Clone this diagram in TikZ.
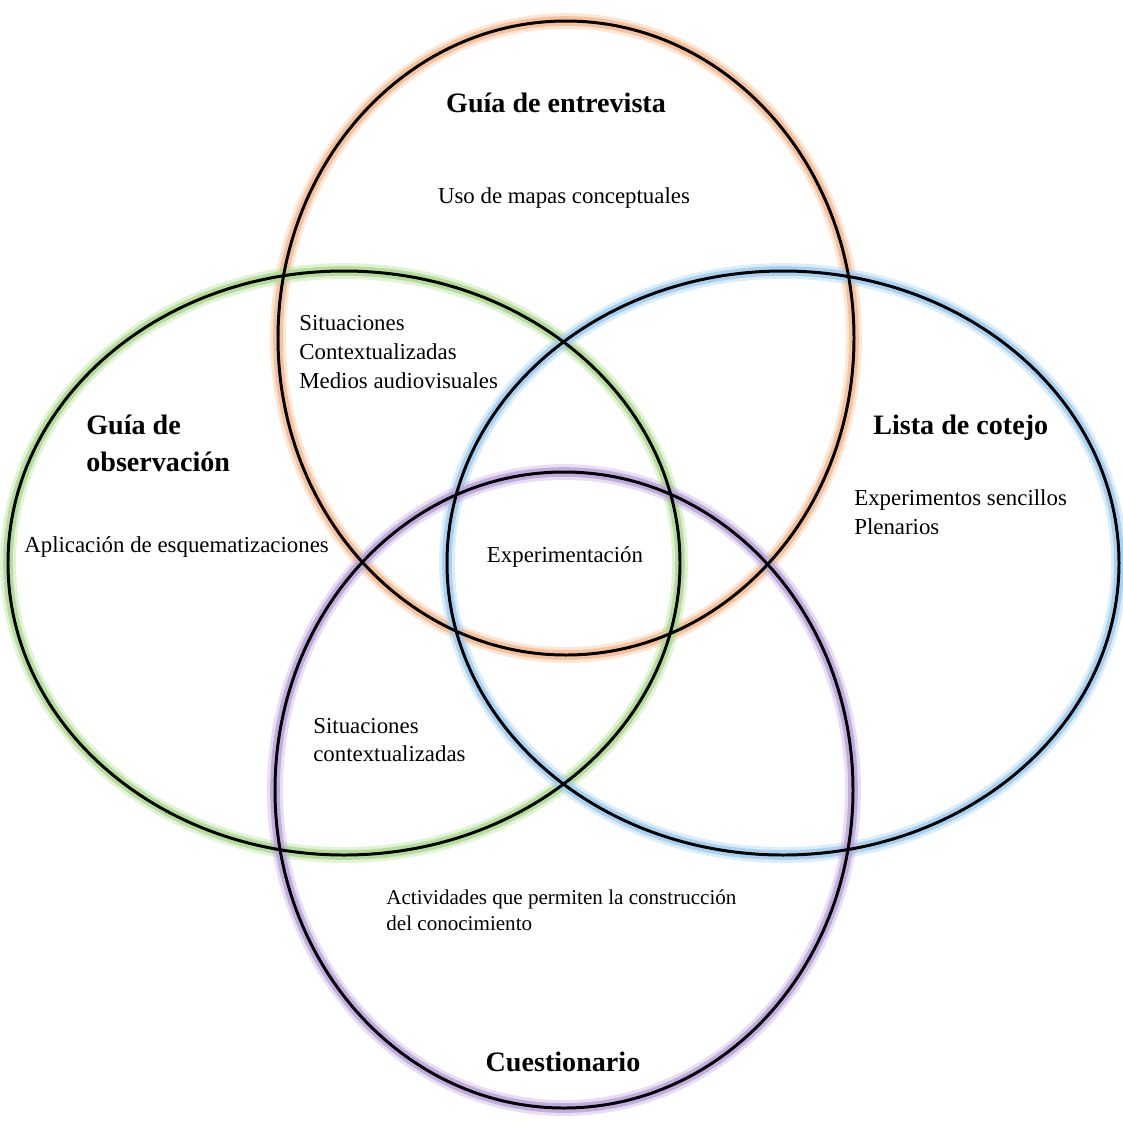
\documentclass[tikz,border=0pt]{standalone}
\usepackage{fontspec}
\setmainfont{Liberation Serif}
\definecolor{orangeglow}{HTML}{F6B98C}
\definecolor{greenglow}{HTML}{A9D98A}
\definecolor{blueglow}{HTML}{9CCBF0}
\definecolor{purpleglow}{HTML}{B9A0DA}
\tikzset{
  ring/.style={black,line width=1.7pt},
  glowwide/.style={#1,line width=9pt,opacity=0.35},
  glownarrow/.style={#1,line width=5.5pt,opacity=0.8},
  title/.style={font=\fontsize{16}{21}\selectfont\bfseries,inner sep=0pt},
  item/.style={font=\fontsize{13}{16.4}\selectfont,align=left,inner sep=0pt}
}
\begin{document}
\begin{tikzpicture}[x=0.02cm,y=-0.02cm]
\useasboundingbox (0,0) rectangle (1123,1120);
\coordinate (E) at (566,338);
\coordinate (O) at (344,563);
\coordinate (L) at (783,563);
\coordinate (C) at (564,790);

% glows
\draw[glowwide=orangeglow] (E) ellipse [x radius=288, y radius=317];
\draw[glownarrow=orangeglow] (E) ellipse [x radius=288, y radius=317];
\draw[glowwide=greenglow] (O) ellipse [x radius=336, y radius=292];
\draw[glownarrow=greenglow] (O) ellipse [x radius=336, y radius=292];
\draw[glowwide=blueglow] (L) ellipse [x radius=336, y radius=292];
\draw[glownarrow=blueglow] (L) ellipse [x radius=336, y radius=292];
\draw[glowwide=purpleglow] (C) ellipse [x radius=289, y radius=318];
\draw[glownarrow=purpleglow] (C) ellipse [x radius=289, y radius=318];

% rings
\draw[ring] (E) ellipse [x radius=288, y radius=317];
\draw[ring] (O) ellipse [x radius=336, y radius=292];
\draw[ring] (L) ellipse [x radius=336, y radius=292];
\draw[ring] (C) ellipse [x radius=289, y radius=318];

% titles
\node[title] (entrevista) at (556,103) {Guía de entrevista};
\node[title,align=left,anchor=west] (observacion) at (86,443) {Guía de\\observación};
\node[title,anchor=west] (cotejo) at (873,428) {Lista de cotejo};
\node[title] (cuestionario) at (563,1062) {Cuestionario};

% contents
\node[item] (mapas) at (564,198) {Uso de mapas conceptuales};
\node[item,anchor=west] (medios) at (299,352) {Situaciones\\Contextualizadas\\Medios audiovisuales};
\node[item,anchor=west] (esquemas) at (24,547) {Aplicación de esquematizaciones};
\node[item] (experimentacion) at (565,557) {Experimentación};
\node[item,anchor=west] (sencillos) at (854,512) {Experimentos sencillos\\Plenarios};
\node[item,anchor=west] (situaciones) at (313,740) {Situaciones\\contextualizadas};
\node[item,anchor=west,font=\fontsize{12}{14.7}\selectfont] (actividades) at (386,910) {Actividades que permiten la construcción\\del conocimiento};
\end{tikzpicture}
\end{document}
